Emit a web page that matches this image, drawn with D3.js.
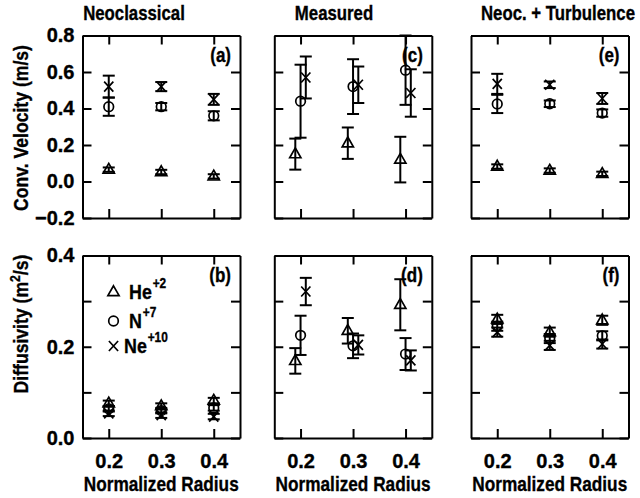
<!DOCTYPE html>
<html><head><meta charset="utf-8">
<script src="https://cdn.jsdelivr.net/npm/d3@7"></script>
<style>
body{margin:0;background:#fff;}
svg{display:block;}
text{font-family:"Liberation Sans",Arial,Helvetica,sans-serif;font-weight:bold;fill:#000;stroke:#000;stroke-width:0.35px;}
</style></head><body>
<svg id="c" width="640" height="498"></svg>
<script>
// ---------- data ----------
const radius = [0.2, 0.3, 0.4];
const colTitles = ["Neoclassical", "Measured", "Neoc. + Turbulence"];
const panelLabels = [["(a)", "(b)"], ["(c)", "(d)"], ["(e)", "(f)"]];
const xTicks = [0.2, 0.3, 0.4];
const velTicks = [-0.2, 0, 0.2, 0.4, 0.6, 0.8];
const difTicks = [0, 0.1, 0.2, 0.3, 0.4];
const difTickLabels = [0, 0.2, 0.4];
const species = ["He", "N", "Ne"];
const speciesCharge = ["+2", "+7", "+10"];
const measuredOffset = [-0.01, 0, 0.01]; // radius shift of He, N, Ne in measured panels

// [value, error] at r = 0.2, 0.3, 0.4
const velNeoHe = [[0.065, 0.012], [0.052, 0.012], [0.028, 0.012]];
const velNeoN  = [[0.41, 0.05], [0.41, 0.02], [0.36, 0.025]];
const velNeoNe = [[0.52, 0.06], [0.52, 0.025], [0.45, 0.03]];

const velMeasHe = [[0.15, 0.085], [0.21, 0.086], [0.12, 0.125]];
const velMeasN  = [[0.44, 0.2], [0.52, 0.15], [0.61, 0.19]];
const velMeasNe = [[0.57, 0.115], [0.53, 0.1], [0.485, 0.13]];

const velTurbHe = [[0.082, 0.012], [0.06, 0.012], [0.042, 0.012]];
const velTurbN  = [[0.425, 0.05], [0.426, 0.018], [0.375, 0.02]];
const velTurbNe = [[0.535, 0.055], [0.53, 0.018], [0.455, 0.03]];

const difNeoHe = [[0.076, 0.006], [0.07, 0.006], [0.082, 0.006]];
const difNeoN  = [[0.064, 0.006], [0.06, 0.006], [0.066, 0.006]];
const difNeoNe = [[0.054, 0.006], [0.05, 0.006], [0.047, 0.006]];

const difMeasHe = [[0.169, 0.028], [0.235, 0.028], [0.292, 0.056]];
const difMeasN  = [[0.225, 0.043], [0.202, 0.027], [0.184, 0.035]];
const difMeasNe = [[0.321, 0.03], [0.204, 0.021], [0.17, 0.022]];

const difTurbHe = [[0.26, 0.01], [0.232, 0.01], [0.258, 0.01]];
const difTurbN  = [[0.245, 0.01], [0.218, 0.01], [0.224, 0.01]];
const difTurbNe = [[0.232, 0.01], [0.203, 0.01], [0.206, 0.01]];

// ---------- layout ----------
const colLeft = [82.5, 274.3, 471];
const W = 157.5;
const rowTop = [35.5, 255.5];
const H = 182.5;
const TICK = 9;

const panels = [
  {col: 0, row: 0, sets: [velNeoHe, velNeoN, velNeoNe], shift: false},
  {col: 1, row: 0, sets: [velMeasHe, velMeasN, velMeasNe], shift: true},
  {col: 2, row: 0, sets: [velTurbHe, velTurbN, velTurbNe], shift: false},
  {col: 0, row: 1, sets: [difNeoHe, difNeoN, difNeoNe], shift: false},
  {col: 1, row: 1, sets: [difMeasHe, difMeasN, difMeasNe], shift: true},
  {col: 2, row: 1, sets: [difTurbHe, difTurbN, difTurbNe], shift: false}
];

const svg = d3.select("#c");

function label(g, x, y, s, size, anchor, sx, rot) {
  const gg = g.append("g").attr("transform",
    `translate(${x},${y})` + (rot ? ` rotate(${rot})` : "") + ` scale(${sx},1)`);
  return gg.append("text").attr("text-anchor", anchor).style("font-size", size + "px").text(s);
}

function marker(g, kind, x, y) {
  const m = g.append("g").attr("transform", `translate(${x},${y})`)
    .attr("fill", "none").attr("stroke", "#000").attr("stroke-width", 1.7);
  if (kind === 0) {
    m.append("path").attr("d", "M0,-6.2L5.6,3.6L-5.6,3.6Z").attr("stroke-linejoin", "miter");
  } else if (kind === 1) {
    m.append("circle").attr("r", 4.8);
  } else {
    m.append("path").attr("d", "M-4.6,-5L4.6,5M-4.6,5L4.6,-5");
  }
}

panels.forEach(p => {
  const left = colLeft[p.col], top = rowTop[p.row];
  const x = d3.scaleLinear().domain([0.15, 0.45]).range([left, left + W]);
  const y = p.row === 0
    ? d3.scaleLinear().domain([-0.2, 0.8]).range([top + H, top])
    : d3.scaleLinear().domain([0, 0.4]).range([top + H, top]);
  const g = svg.append("g");
  const yTicks = p.row === 0 ? velTicks : difTicks;

  // axes with inward ticks on four sides
  const axB = d3.axisBottom(x).tickValues(xTicks).tickSizeInner(-TICK).tickSizeOuter(0).tickPadding(16)
    .tickFormat(p.row === 1 ? d3.format(".1f") : () => "");
  const axT = d3.axisTop(x).tickValues(xTicks).tickSizeInner(-TICK).tickSizeOuter(0).tickFormat(() => "");
  const axL = d3.axisLeft(y).tickValues(yTicks).tickSizeInner(-TICK).tickSizeOuter(0).tickPadding(8)
    .tickFormat(d => {
      if (p.col !== 0) return "";
      if (p.row === 1 && !difTickLabels.includes(d)) return "";
      return d3.format(".1f")(d);
    });
  const axR = d3.axisRight(y).tickValues(yTicks).tickSizeInner(-TICK).tickSizeOuter(0).tickFormat(() => "");

  [[axB, `translate(0,${top + H})`], [axT, `translate(0,${top})`],
   [axL, `translate(${left},0)`], [axR, `translate(${left + W},0)`]].forEach(([ax, tr]) => {
    const a = g.append("g").attr("transform", tr).call(ax);
    a.select(".domain").attr("stroke-width", 2).attr("stroke", "#000");
    a.selectAll(".tick line").attr("stroke-width", 2).attr("stroke", "#000");
    a.selectAll(".tick text").style("font-size", "20px").attr("fill", "#000")
      .style("font-family", '"Liberation Sans",Arial,sans-serif').style("font-weight", "bold");
  });

  // data: error bars then markers
  p.sets.forEach((set, si) => {
    set.forEach((d, i) => {
      const xr = radius[i] + (p.shift ? measuredOffset[si] : 0);
      const cx = x(xr);
      const [v, e] = d;
      const eb = g.append("g").attr("stroke", "#000").attr("stroke-width", 2);
      eb.append("line").attr("x1", cx).attr("x2", cx).attr("y1", y(v - e)).attr("y2", y(v + e));
      [v - e, v + e].forEach(c => eb.append("line").attr("x1", cx - 6).attr("x2", cx + 6)
        .attr("y1", y(c)).attr("y2", y(c)));
      marker(g, si, cx, y(v));
    });
  });

  // panel label
  label(g, left + W - 9, top + 26, panelLabels[p.col][p.row], 20, "end", 0.85);

  // x axis title
  if (p.row === 1) label(g, left + W / 2, 491, "Normalized Radius", 21, "middle", 0.82);
});

// column titles
const titleX = [134, 334, 558];
colTitles.forEach((t, i) => label(svg, titleX[i], 20, t, 20, "middle", 0.84));

// y titles
label(svg, 28, 128, "Conv. Velocity (m/s)", 20, "middle", 0.88, -90);
const dt = label(svg, 28, 324, "", 20, "middle", 0.88, -90);
dt.append("tspan").text("Diffusivity (m");
dt.append("tspan").attr("dy", -8).style("font-size", "14px").text("2");
dt.append("tspan").attr("dy", 8).text("/s)");

// legend in panel (b)
const lg = svg.append("g");
const legY = [299, 328, 353];
const legTextX = [129, 129, 124];
species.forEach((s, i) => {
  marker(lg, i, 113.5, legY[i] - 7);
  const t = label(lg, legTextX[i], legY[i], "", 21, "start", 0.85);
  t.append("tspan").text(s);
  t.append("tspan").attr("dx", 1).attr("dy", -11).style("font-size", "14px").text(speciesCharge[i]);
});
</script>
</body></html>
